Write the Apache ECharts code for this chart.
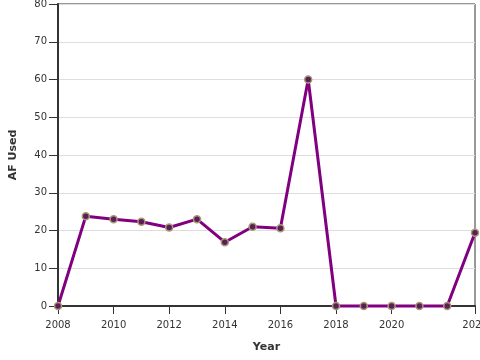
<!DOCTYPE html>
<html>
<head>
<meta charset="utf-8">
<script src="https://cdn.jsdelivr.net/npm/echarts@6/dist/echarts.min.js"></script>
<style>html,body{margin:0;padding:0;background:#fff;}#c{width:480px;height:360px;}</style>
</head>
<body>
<div id="c"></div>
<script>
const years = [2008,2009,2010,2011,2012,2013,2014,2015,2016,2017,2018,2019,2020,2021,2022,2023];
const afUsed = [0,23.8,23.0,22.3,20.8,23.0,16.9,21.0,20.6,60.0,0,0,0,0,0,19.4];
const xTickValues = [2008,2010,2012,2014,2016,2018,2020,2023];
const yMin = 0, yMax = 80, yStep = 10;

const chart = echarts.init(document.getElementById('c'), null, {renderer:'canvas'});
const font = 'DejaVu Sans';
chart.setOption({
  animation:false,
  backgroundColor:'#fff',
  grid:{left:58,right:5,top:4,bottom:54,containLabel:false,outerBoundsMode:'none',show:true,borderColor:'#333',borderWidth:1,backgroundColor:'transparent'},
  xAxis:{
    type:'value', min:2008, max:2023,
    name:'Year', nameLocation:'middle', nameGap:36,
    nameTextStyle:{fontFamily:font,fontSize:11,fontWeight:'bold',color:'#333'},
    axisLine:{show:true,lineStyle:{color:'#333',width:2}},
    axisTick:{show:true,length:8,lineStyle:{color:'#333'},customValues:xTickValues},
    axisLabel:{fontFamily:font,fontSize:10,color:'#333',margin:14,customValues:xTickValues,formatter:v=>String(v),showMaxLabel:true,hideOverlap:false},
    splitLine:{show:false}
  },
  yAxis:{
    type:'value', min:yMin, max:yMax, interval:yStep,
    name:'AF Used', nameLocation:'middle', nameGap:39, nameRotate:90,
    nameTextStyle:{fontFamily:font,fontSize:11,fontWeight:'bold',color:'#333'},
    axisLine:{show:true,lineStyle:{color:'#333',width:2}},
    axisTick:{show:true,length:9,lineStyle:{color:'#333'}},
    axisLabel:{fontFamily:font,fontSize:10,color:'#333',margin:11},
    splitLine:{show:true,lineStyle:{color:'#ddd',width:1}}
  },
  series:[{
    type:'line',
    data:years.map((y,i)=>[y,afUsed[i]]),
    lineStyle:{color:'#800080',width:3},
    symbol:'circle', symbolSize:7, showSymbol:true,
    itemStyle:{color:'#5a1e5a',borderColor:'#a89a72',borderWidth:1.5},
    clip:false
  }]
});
</script>
</body>
</html>
